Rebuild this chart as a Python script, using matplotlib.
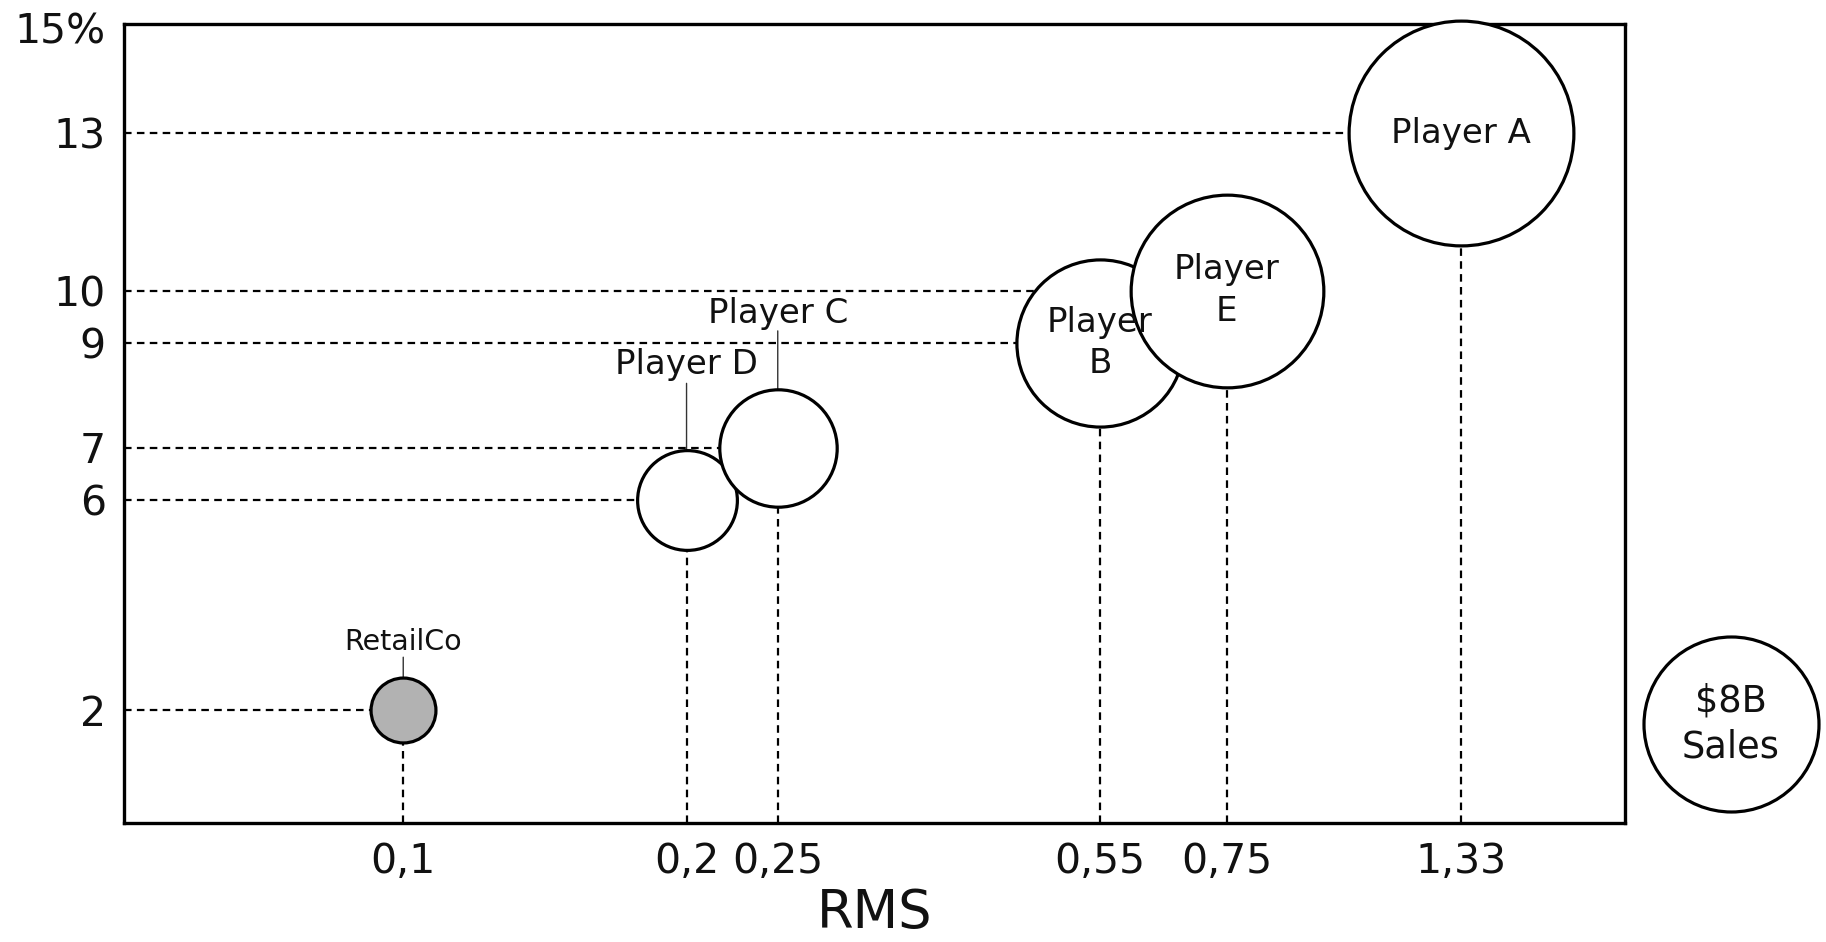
import numpy as np
import matplotlib
matplotlib.use("Agg")
import matplotlib.pyplot as plt

# Relative market share (x), growth % (y) and sales in $B (bubble area)
names = ["Player A", "Player E", "Player B", "Player C", "Player D", "RetailCo"]
labels = ["Player A", "Player\nE", "Player\nB", "Player C", "Player D", "RetailCo"]
rms = [1.33, 0.75, 0.55, 0.25, 0.2, 0.1]
growth = [13, 10, 9, 7, 6, 2]
sales = [13.2, 9.7, 7.3, 3.6, 2.6, 1.1]
fills = ["white", "white", "white", "white", "white", "#b2b2b2"]

x_ticks = [0.1, 0.2, 0.25, 0.55, 0.75, 1.33]
x_ticklabels = ["0,1", "0,2", "0,25", "0,55", "0,75", "1,33"]
y_ticks = [2, 6, 7, 9, 10, 13, 15]
y_ticklabels = ["2", "6", "7", "9", "10", "13", "15%"]

legend_sales = 8
legend_text = "$8B\nSales"

plt.rcParams["font.family"] = ["DejaVu Sans"]
TXT = "#111111"

fig = plt.figure(figsize=(18.26, 9.42), dpi=100)
ax = fig.add_axes([124 / 1826, 119 / 942, 1501 / 1826, 799 / 942])
ax.set_xscale("log")
ax.set_xlim(0.0505, 1.987)
ax.set_ylim(-0.15, 15.08)

k = 1984.5  # marker area (pt^2) per $1B of sales

for s in ax.spines.values():
    s.set_linewidth(2.4)
    s.set_color("black")

ax.set_xticks(x_ticks)
ax.set_xticklabels(x_ticklabels)
ax.xaxis.set_minor_locator(matplotlib.ticker.NullLocator())
ax.set_yticks(y_ticks)
ax.set_yticklabels(y_ticklabels)
ax.tick_params(axis="both", length=0, labelsize=29.5, colors=TXT)
ax.tick_params(axis="x", pad=14)
ax.tick_params(axis="y", pad=13)
ax.set_xlabel("RMS", fontsize=38, color=TXT, labelpad=3)

x0, x1 = ax.get_xlim()
y0, y1 = ax.get_ylim()
dash = (0, (3.4, 2.4))

# Reference lines to each bubble (bubbles cover the ends)
for xv, yv in zip(rms, growth):
    ax.plot([x0, xv], [yv, yv], color="black", lw=1.6, linestyle=dash, zorder=1)
    ax.plot([xv, xv], [y0, yv], color="black", lw=1.6, linestyle=dash, zorder=1)

# Bubbles, largest first so smaller ones sit on top
order = np.argsort(sales)[::-1]
for i in order:
    ax.scatter(rms[i], growth[i], s=sales[i] * k, facecolor=fills[i],
               edgecolor="black", linewidth=2.3, zorder=3 + (len(sales) - i) * 0.01,
               clip_on=False)

# Labels inside the big bubbles
for i in range(3):
    ax.text(rms[i], growth[i], labels[i], ha="center", va="center",
            fontsize=24.5, color=TXT, zorder=5, linespacing=1.32)

# Labels above the small bubbles with leader lines
callouts = {3: (117, 125, 24.5), 4: (117, 126, 24.5), 5: (53, 60, 20.5)}
for i, (line_px, text_px, fs) in callouts.items():
    ax.annotate("", xy=(rms[i], growth[i]), xytext=(0, line_px),
                textcoords="offset pixels",
                arrowprops=dict(arrowstyle="-", lw=1.0, color="#333333",
                                shrinkA=0, shrinkB=0), zorder=2)
    ax.annotate(labels[i], xy=(rms[i], growth[i]), xytext=(0, text_px),
                textcoords="offset pixels", ha="center", va="baseline",
                fontsize=fs, color=TXT, zorder=5)

# Size legend bubble
lx, ly = 1.0706, 0.124
ax.scatter([lx], [ly], s=legend_sales * k, facecolor="white", edgecolor="black",
           linewidth=2.3, transform=ax.transAxes, clip_on=False, zorder=3)
ax.text(lx, ly, legend_text, transform=ax.transAxes, ha="center", va="center",
        fontsize=26.5, color=TXT, linespacing=1.3, zorder=5)

fig.savefig("out.png", dpi=100, facecolor="white")
